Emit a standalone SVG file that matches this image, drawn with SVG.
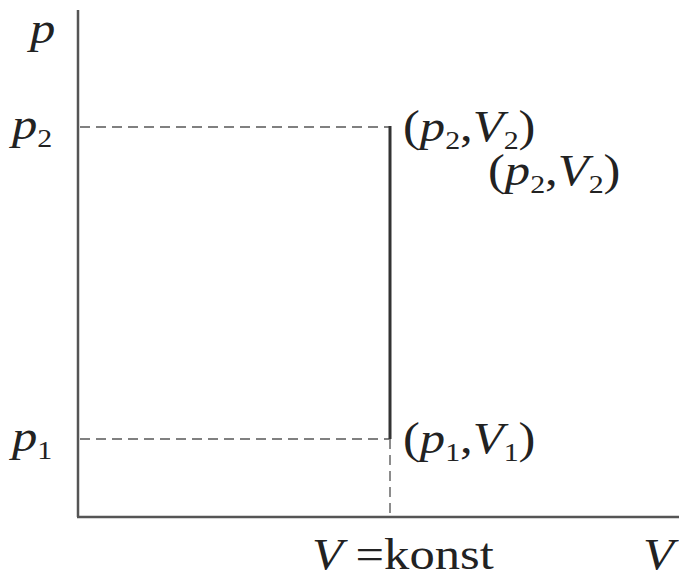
<svg xmlns="http://www.w3.org/2000/svg" width="679" height="578" viewBox="0 0 679 578">
<style>
text{font-family:'Liberation Serif','Times New Roman','DejaVu Serif',serif;font-size:44px;fill:#222}
.i{font-style:italic}
.s{font-size:26px}
.ax{stroke:#555;stroke-width:2.5;fill:none}
.d{stroke:#808080;stroke-width:1.8;stroke-dasharray:10 6;fill:none}
.p{stroke:#333;stroke-width:3;fill:none}
</style>
<rect width="679" height="578" fill="#fff"/>
<g id="axes">
<line class="ax" x1="78" y1="10" x2="78" y2="517"/>
<line class="ax" x1="77" y1="517" x2="679" y2="517"/>
</g>
<g id="connectors">
<line class="d" x1="80" y1="127" x2="390" y2="127"/>
<line class="d" x1="80" y1="439" x2="390" y2="439"/>
<line class="d" x1="390" y1="439" x2="390" y2="516"/>
<line class="p" x1="390" y1="126" x2="390" y2="439"/>
</g>
<g id="labels">
<text transform="translate(30,43) scale(1.15,1)" class="i">p</text>
<text transform="translate(12,139) scale(1.15,1)"><tspan class="i">p</tspan><tspan class="s" dy="8">2</tspan></text>
<text transform="translate(12,451) scale(1.15,1)"><tspan class="i">p</tspan><tspan class="s" dy="8">1</tspan></text>
<text transform="translate(403,141) scale(1.15,1)">(<tspan class="i">p</tspan><tspan class="s" dy="8">2</tspan><tspan dy="-8">,</tspan><tspan class="i">V</tspan><tspan class="s" dy="8">2</tspan><tspan dy="-8">)</tspan></text>
<text transform="translate(488,185) scale(1.15,1)">(<tspan class="i">p</tspan><tspan class="s" dy="8">2</tspan><tspan dy="-8">,</tspan><tspan class="i">V</tspan><tspan class="s" dy="8">2</tspan><tspan dy="-8">)</tspan></text>
<text transform="translate(403,453) scale(1.15,1)">(<tspan class="i">p</tspan><tspan class="s" dy="8">1</tspan><tspan dy="-8">,</tspan><tspan class="i">V</tspan><tspan class="s" dy="8">1</tspan><tspan dy="-8">)</tspan></text>
<text transform="translate(312,569) scale(1.15,1)"><tspan class="i">V</tspan> =konst</text>
<text transform="translate(643,569) scale(1.15,1)" class="i">V</text>
</g>
</svg>
